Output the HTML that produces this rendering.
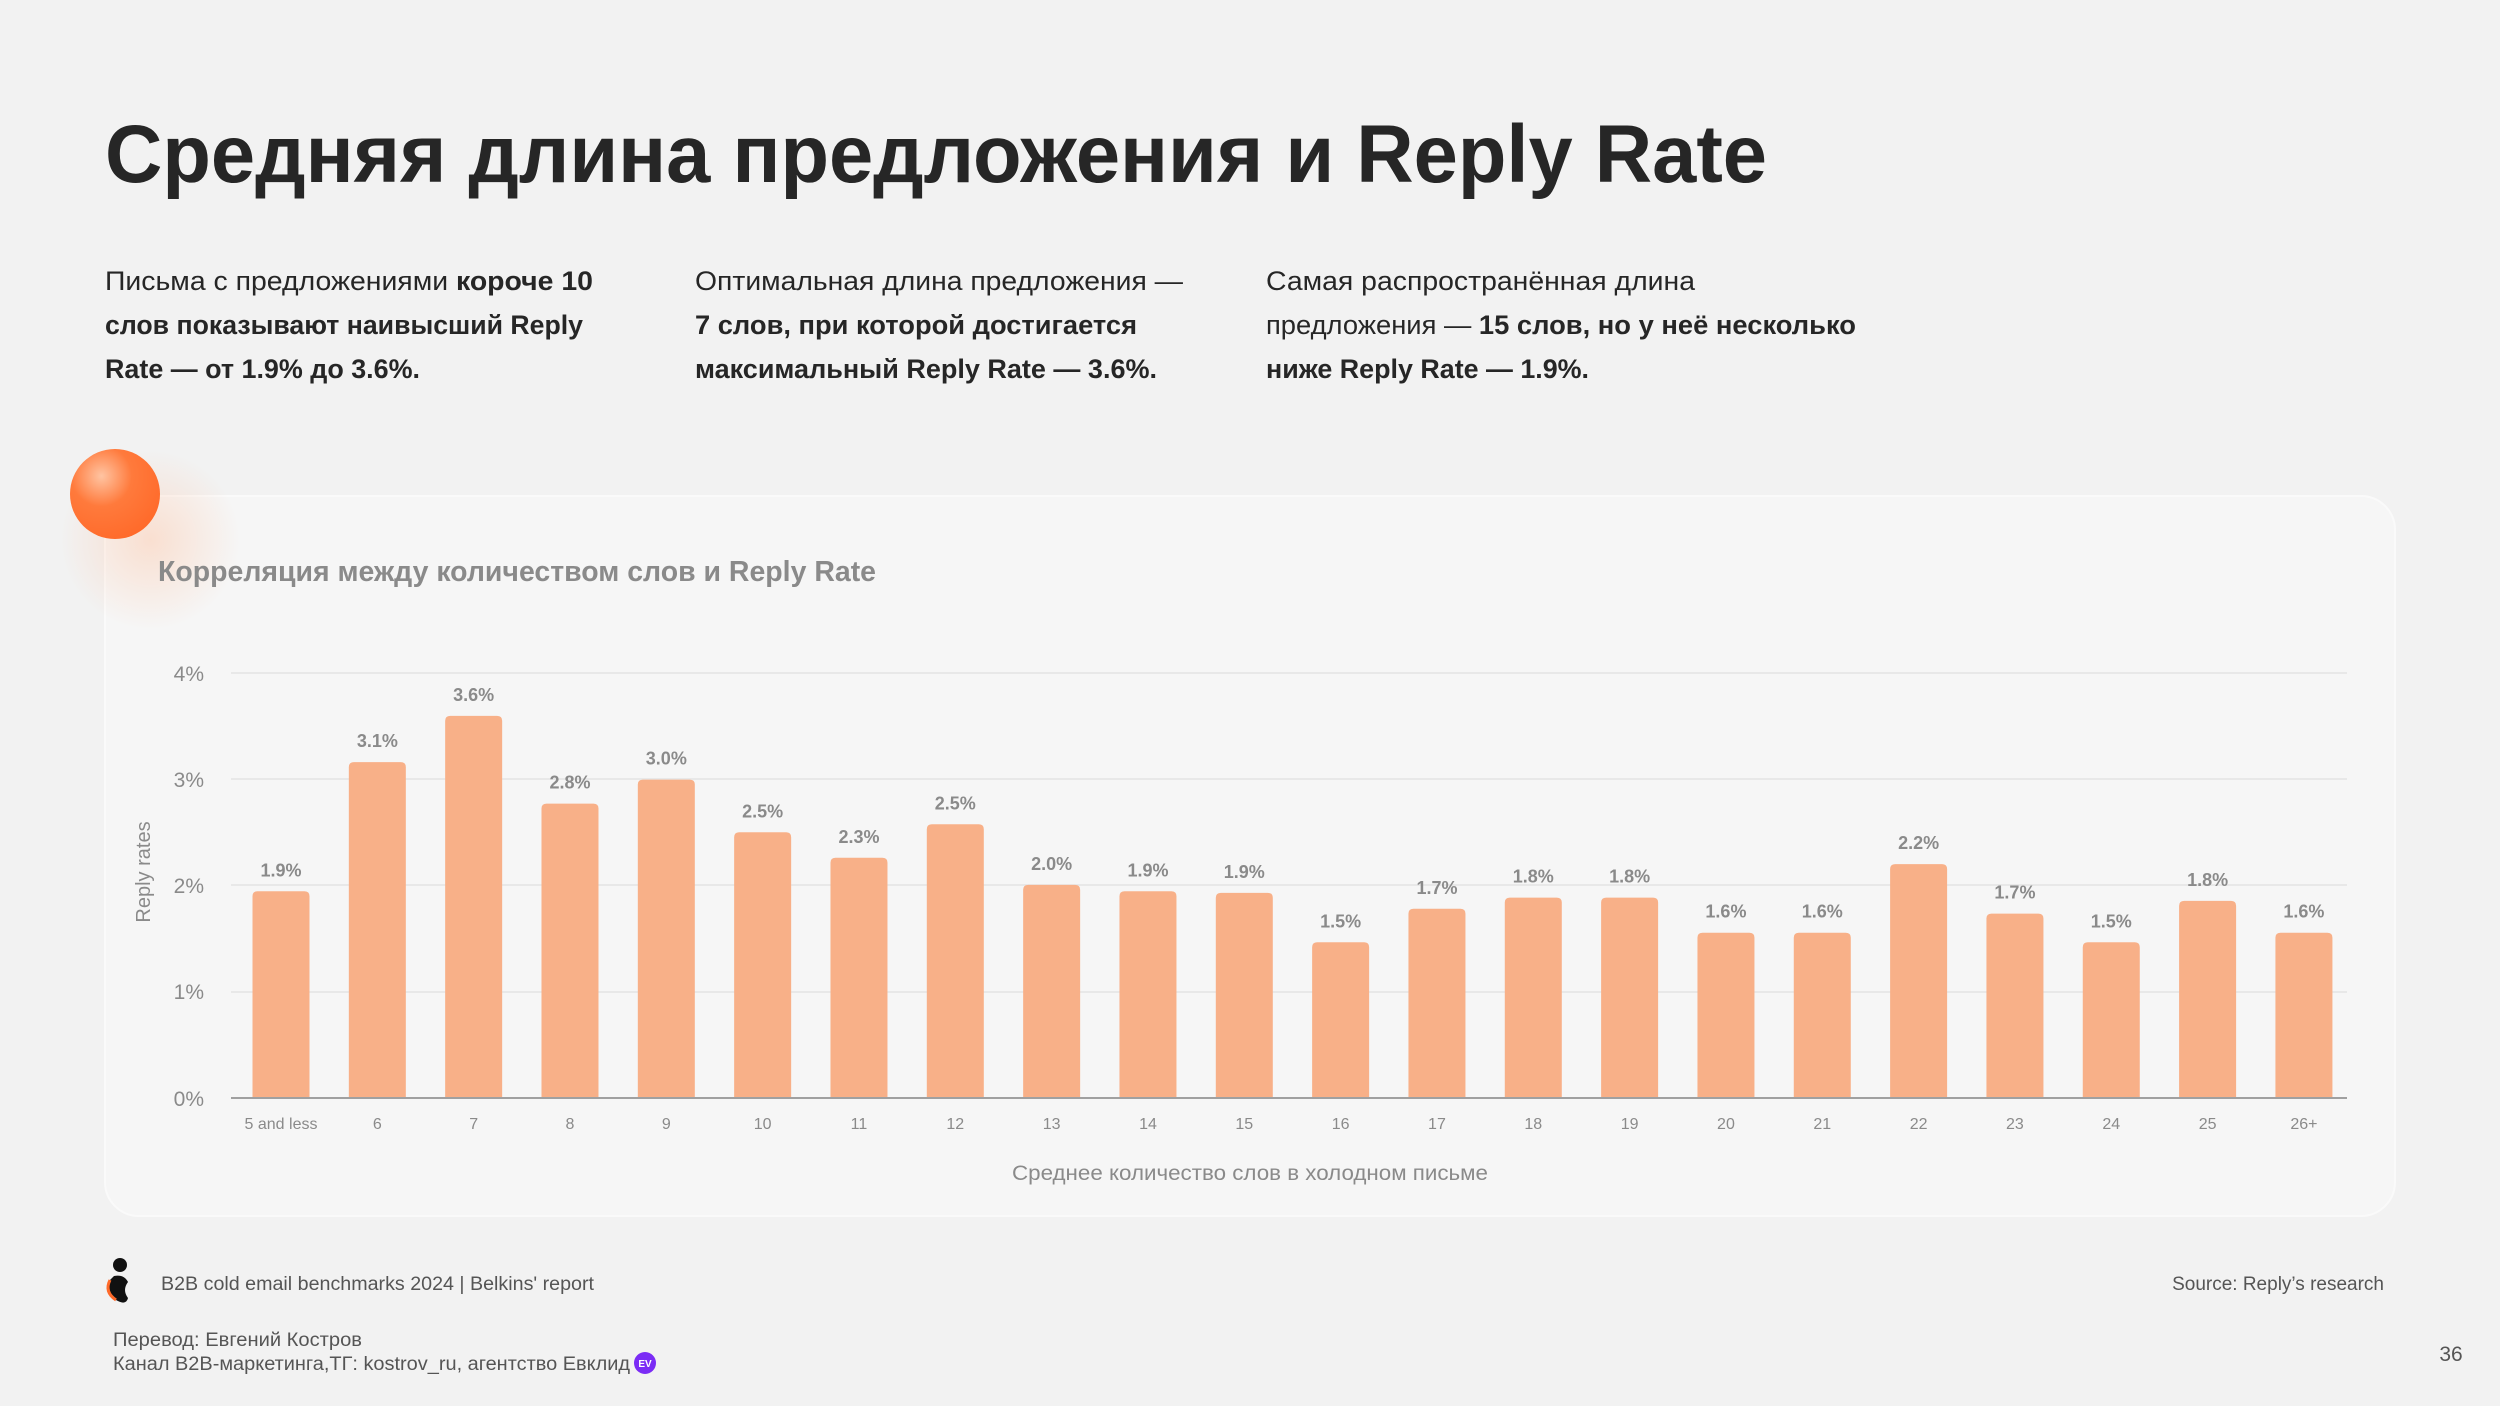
<!DOCTYPE html>
<html><head><meta charset="utf-8"><style>
html,body{margin:0;padding:0;background:#f2f2f2;}
svg{display:block;}
text{font-family:"Liberation Sans","Noto Sans CJK SC",sans-serif;}
</style></head><body>
<svg width="2500" height="1406" viewBox="0 0 2500 1406" xmlns="http://www.w3.org/2000/svg">
<defs>
<radialGradient id="ball" cx="0.35" cy="0.3" r="0.75">
<stop offset="0" stop-color="#ffc4a2"/><stop offset="0.45" stop-color="#ff7a3c"/><stop offset="1" stop-color="#ff6a2a"/>
</radialGradient>
<radialGradient id="glow" cx="0.5" cy="0.5" r="0.5">
<stop offset="0" stop-color="#ffb48a" stop-opacity="0.35"/><stop offset="1" stop-color="#ffb48a" stop-opacity="0"/>
</radialGradient>
</defs>
<rect width="2500" height="1406" fill="#f2f2f2"/>
<text x="105" y="182" font-size="82" font-weight="bold" fill="#262626" textLength="1662" lengthAdjust="spacingAndGlyphs">Средняя длина предложения и Reply Rate</text>
<g font-size="27" fill="#262626">
<text x="105" y="290" textLength="488" lengthAdjust="spacingAndGlyphs">Письма с предложениями <tspan font-weight="bold">короче 10</tspan></text>
<text x="105" y="334" font-weight="bold" textLength="478" lengthAdjust="spacingAndGlyphs">слов показывают наивысший Reply</text>
<text x="105" y="378" font-weight="bold" textLength="315" lengthAdjust="spacingAndGlyphs">Rate — от 1.9% до 3.6%.</text>
<text x="695" y="290" textLength="488" lengthAdjust="spacingAndGlyphs">Оптимальная длина предложения —</text>
<text x="695" y="334" font-weight="bold" textLength="442" lengthAdjust="spacingAndGlyphs">7 слов, при которой достигается</text>
<text x="695" y="378" font-weight="bold" textLength="462" lengthAdjust="spacingAndGlyphs">максимальный Reply Rate — 3.6%.</text>
<text x="1266" y="290" textLength="429" lengthAdjust="spacingAndGlyphs">Самая распространённая длина</text>
<text x="1266" y="334" textLength="590" lengthAdjust="spacingAndGlyphs">предложения — <tspan font-weight="bold">15 слов, но у неё несколько</tspan></text>
<text x="1266" y="378" font-weight="bold" textLength="323" lengthAdjust="spacingAndGlyphs">ниже Reply Rate — 1.9%.</text>
</g>
<rect x="105" y="496" width="2290" height="720" rx="34" fill="#f6f6f6" stroke="#fafafa" stroke-width="2"/>
<circle cx="150" cy="540" r="90" fill="url(#glow)"/>
<circle cx="115" cy="494" r="45" fill="url(#ball)"/>
<text x="158" y="581" font-size="29" font-weight="bold" fill="#8a8a8a" textLength="718" lengthAdjust="spacingAndGlyphs">Корреляция между количеством слов и Reply Rate</text>
<g stroke="#e4e4e4" stroke-width="1.5">
<line x1="231" y1="673" x2="2347" y2="673"/><line x1="231" y1="779" x2="2347" y2="779"/>
<line x1="231" y1="885" x2="2347" y2="885"/><line x1="231" y1="992" x2="2347" y2="992"/>
</g>
<g font-size="21" fill="#8a8a8a" text-anchor="end">
<text x="204" y="681">4%</text><text x="204" y="787">3%</text><text x="204" y="893">2%</text><text x="204" y="999">1%</text><text x="204" y="1106">0%</text>
</g>
<text transform="translate(150,872) rotate(-90)" font-size="20" fill="#8a8a8a" text-anchor="middle">Reply rates</text>
<g id="bars"></g>
<line x1="231" y1="1098" x2="2347" y2="1098" stroke="#a0a0a0" stroke-width="2"/>
<text x="1250" y="1180" font-size="21" fill="#8a8a8a" text-anchor="middle" textLength="476" lengthAdjust="spacingAndGlyphs">Среднее количество слов в холодном письме</text>
<g>
<circle cx="120" cy="1265" r="7" fill="#111"/>
<path d="M110 1280 Q104 1292 116 1300 Q126 1306 128 1298 Q122 1290 128 1282 Q124 1274 114 1276 Z" fill="#111"/>
<path d="M110 1280 Q104 1292 116 1300" fill="none" stroke="#ff6a2a" stroke-width="3"/>
</g>
<text x="161" y="1290" font-size="19" fill="#555" textLength="433" lengthAdjust="spacingAndGlyphs">B2B cold email benchmarks 2024 | Belkins' report</text>
<text x="2384" y="1290" font-size="19" fill="#555" text-anchor="end">Source: Reply’s research</text>
<text x="113" y="1346" font-size="19" fill="#555" textLength="249" lengthAdjust="spacingAndGlyphs">Перевод: Евгений Костров</text>
<text x="113" y="1370" font-size="19" fill="#555" textLength="517" lengthAdjust="spacingAndGlyphs">Канал B2B-маркетинга,ТГ: kostrov_ru, агентство Евклид</text>
<circle cx="645" cy="1363" r="11" fill="#7b2cf5"/>
<text x="645" y="1367" font-size="10" font-weight="bold" fill="#fff" text-anchor="middle">EV</text>
<text x="2451" y="1361" font-size="21" fill="#555" text-anchor="middle">36</text>
</svg>
<script>
var labels=["5 and less","6","7","8","9","10","11","12","13","14","15","16","17","18","19","20","21","22","23","24","25","26+"];
var vals=["1.9%","3.1%","3.6%","2.8%","3.0%","2.5%","2.3%","2.5%","2.0%","1.9%","1.9%","1.5%","1.7%","1.8%","1.8%","1.6%","1.6%","2.2%","1.7%","1.5%","1.8%","1.6%"];
var tops=[559,478,449,504,489,522,538,517,555,559,560,591,570,563,563,585,585,542,573,591,565,585];
var g=document.getElementById("bars"),h="";
for(var i=0;i<22;i++){var cx=281+i*96.33,t=tops[i]*1.5944;
h+='<path d="M'+(cx-28.5)+' 1098 V'+(t+5)+' Q'+(cx-28.5)+' '+t+' '+(cx-23.5)+' '+t+' H'+(cx+23.5)+' Q'+(cx+28.5)+' '+t+' '+(cx+28.5)+' '+(t+5)+' V1098 Z" fill="#f8b088"/>';
h+='<text x="'+cx+'" y="'+(t-15)+'" font-size="18" font-weight="bold" fill="#8a8a8a" text-anchor="middle">'+vals[i]+'</text>';
h+='<text x="'+cx+'" y="1129" font-size="16" fill="#8a8a8a" text-anchor="middle">'+labels[i]+'</text>';}
g.innerHTML=h;
</script>
</body></html>
